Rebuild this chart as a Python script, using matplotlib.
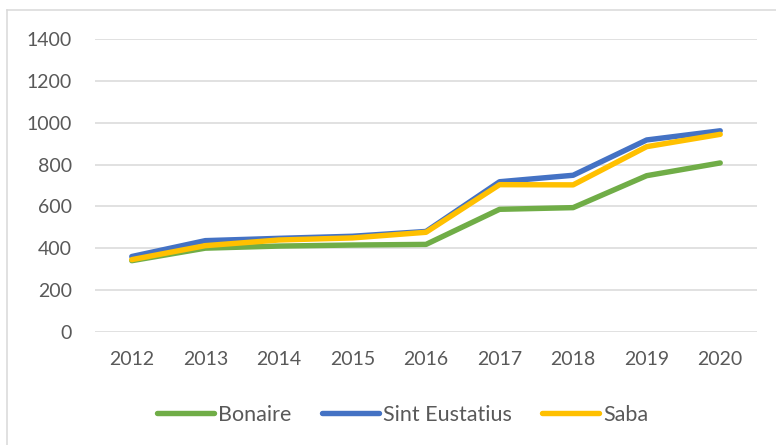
import matplotlib
matplotlib.use("Agg")
import matplotlib.pyplot as plt
from matplotlib.lines import Line2D

plt.rcParams['font.family'] = ['Lato', 'DejaVu Sans']

years = ["2012", "2013", "2014", "2015", "2016", "2017", "2018", "2019", "2020"]
bonaire = [340, 400, 410, 415, 418, 586, 594, 747, 808]
sint_eustatius = [360, 436, 447, 457, 480, 718, 749, 918, 962]
saba = [345, 412, 439, 449, 476, 704, 703, 886, 945]

series = [("Bonaire", bonaire, "#70AD47"),
          ("Sint Eustatius", sint_eustatius, "#4472C4"),
          ("Saba", saba, "#FFC000")]

fig = plt.figure(figsize=(7.76, 4.45), dpi=100)
ax = fig.add_axes([95 / 776, 1 - 331.7 / 445, (757 - 95) / 776, (331.7 - 39.3) / 445])

x = list(range(len(years)))
for name, vals, col in series:
    ax.plot(x, vals, color=col, lw=3.9, label=name,
            solid_capstyle="round", solid_joinstyle="round")

ax.set_xlim(-0.5, len(years) - 0.5)
ax.set_ylim(0, 1400)
ax.set_yticks(range(0, 1401, 200))
ax.set_xticks(x)
ax.set_xticklabels(years)
ax.grid(axis="y", color="#D9D9D9", lw=1.1)
ax.set_axisbelow(True)
for s in ax.spines.values():
    s.set_visible(False)
ax.tick_params(axis="both", length=0, labelsize=14, labelcolor="#595959")
ax.tick_params(axis="y", pad=16.5)
ax.tick_params(axis="x", pad=14)

fig.legend(loc="center", bbox_to_anchor=(403 / 776, 1 - 415 / 445), ncol=3,
           frameon=False, fontsize=15.5, handlelength=2.65, handletextpad=0.2,
           columnspacing=1.4, labelcolor="#595959")

# chart border (only left and top visible in the crop)
fig.add_artist(Line2D([7 / 776, 7 / 776], [0, 1 - 10 / 445], color="#D9D9D9", lw=1.1))
fig.add_artist(Line2D([7 / 776, 1], [1 - 10 / 445, 1 - 10 / 445], color="#D9D9D9", lw=1.1))

fig.savefig("out.png", dpi=100)
